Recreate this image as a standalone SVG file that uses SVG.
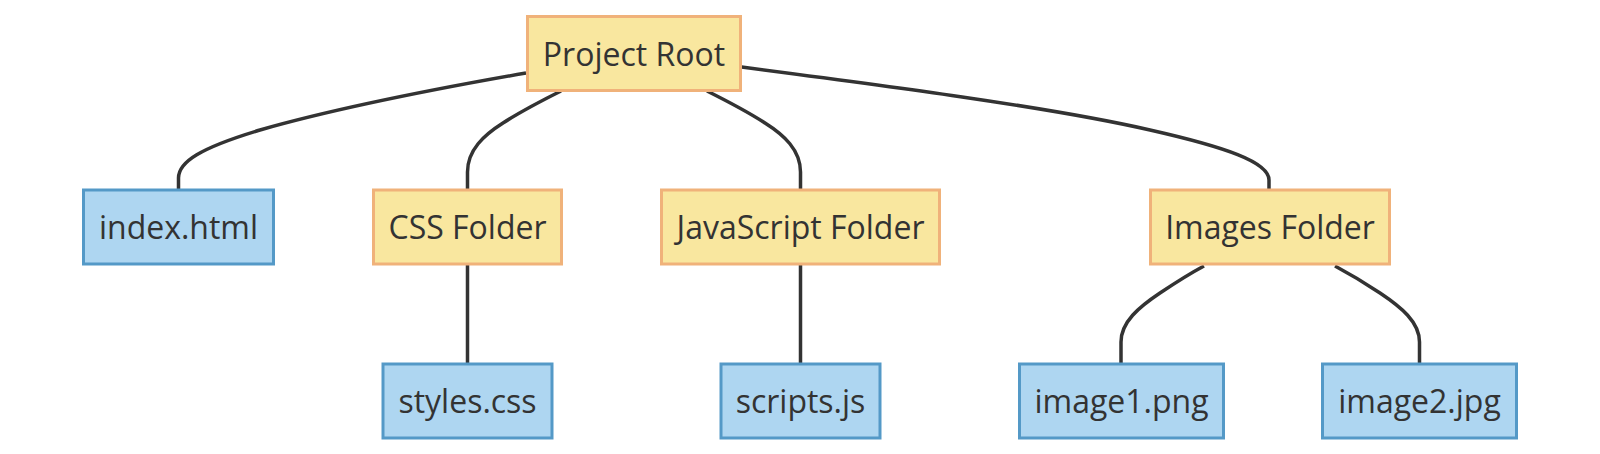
<svg xmlns="http://www.w3.org/2000/svg" width="1600" height="454" viewBox="0 0 1600 454">
<style>
.folder rect{fill:#F9E79F;stroke:#F0B27A;stroke-width:3}
.file rect{fill:#AED6F1;stroke:#5499C7;stroke-width:3}
text{font-family:"Open Sans","Noto Sans","Liberation Sans",sans-serif;font-size:32px;fill:#333;text-anchor:middle}
#edges path{fill:none;stroke:#333;stroke-width:3.5}
</style>
<rect width="1600" height="454" fill="#fff"/>
<g id="edges">
<path d="M526,73 C440,88 330,110 260,130 C200,148 178.5,162 178.5,178 L178.5,189"/>
<path d="M561,91 C545,99 520,112 503,123 C484,135 467.5,150 467.5,172 L467.5,189"/>
<path d="M707,91 C723,99 748,112 765,123 C784,135 800.5,150 800.5,172 L800.5,189"/>
<path d="M741,67 C880,85 1050,107 1150,130 C1225,147 1269,162 1269,180 L1269,189"/>
<path d="M467.5,265 L467.5,363"/>
<path d="M800.5,265 L800.5,363"/>
<path d="M1204,266 C1189,274 1175,283 1160,293 C1139,307 1121,322 1121,342 L1121,363"/>
<path d="M1335,266 C1350,274 1365,283 1380,293 C1401,307 1419.5,322 1419.5,342 L1419.5,363"/>
</g>
<g id="root" class="folder"><rect x="527.5" y="16.5" width="213" height="74"/><text x="634" y="65.5">Project Root</text></g>
<g id="index" class="file"><rect x="83.5" y="190" width="190" height="74"/><text x="178.5" y="239">index.html</text></g>
<g id="css" class="folder"><rect x="373.5" y="190" width="188" height="74"/><text x="467.5" y="239">CSS Folder</text></g>
<g id="js" class="folder"><rect x="661.5" y="190" width="278" height="74"/><text x="800.5" y="239">JavaScript Folder</text></g>
<g id="images" class="folder"><rect x="1150.5" y="190" width="239" height="74"/><text x="1270" y="239">Images Folder</text></g>
<g id="styles" class="file"><rect x="383" y="364" width="169" height="74"/><text x="467.5" y="413">styles.css</text></g>
<g id="scripts" class="file"><rect x="721" y="364" width="159" height="74"/><text x="800.5" y="413">scripts.js</text></g>
<g id="image1" class="file"><rect x="1019.5" y="364" width="204" height="74"/><text x="1121.5" y="413">image1.png</text></g>
<g id="image2" class="file"><rect x="1322.5" y="364" width="194" height="74"/><text x="1419.5" y="413">image2.jpg</text></g>
</svg>
